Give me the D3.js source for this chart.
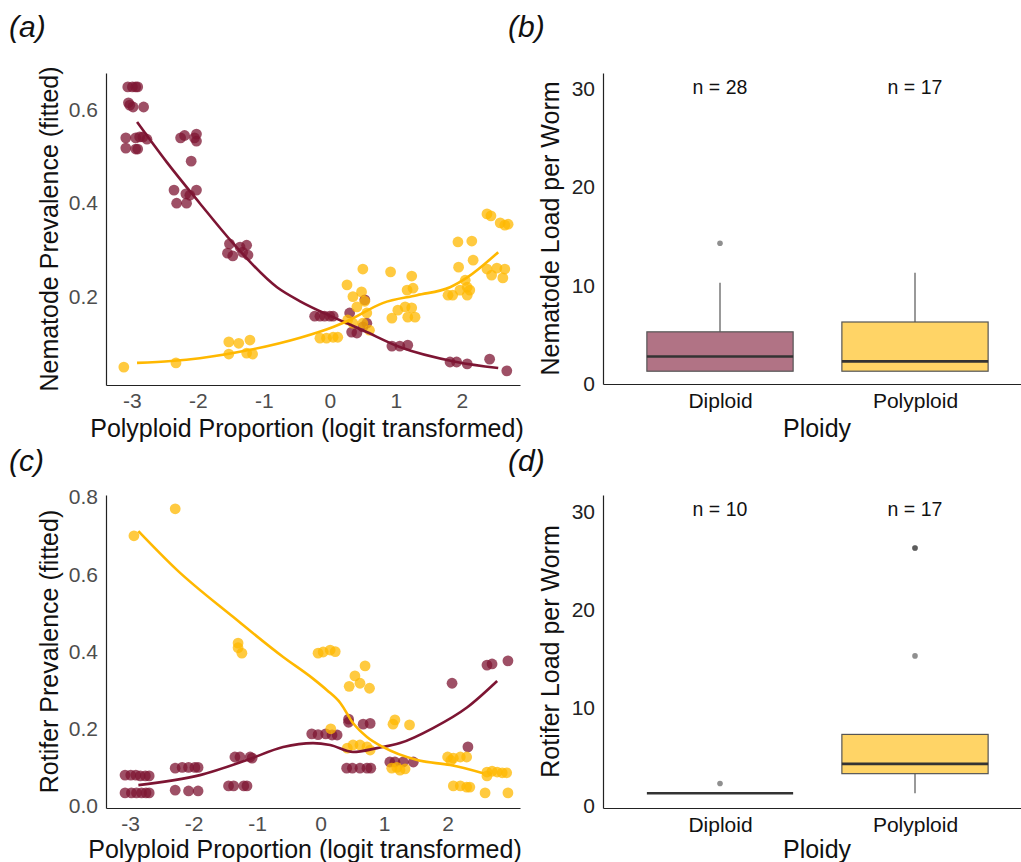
<!DOCTYPE html>
<html>
<head>
<meta charset="utf-8">
<script src="https://cdn.jsdelivr.net/npm/d3@7"></script>
<style>
  body { margin: 0; background: #fff; }
  svg { display: block; font-family: "Liberation Sans", Arial, sans-serif; }
</style>
</head>
<body>
<svg id="root" width="1021" height="862"></svg>
<script>
const root = d3.select('#root');

const maroon = '#7D1533';
const gold = '#FFB800';

// ---- panel (a): nematode prevalence, points are [logit polyploid proportion, prevalence]
const nemaDiploidPts = [
  [-3.06,0.649],[-2.99,0.649],[-2.94,0.649],[-2.91,0.649],
  [-3.05,0.615],[-3.03,0.61],[-2.98,0.606],[-2.82,0.606],
  [-3.09,0.54],[-2.94,0.54],[-2.88,0.542],[-2.83,0.542],[-2.77,0.537],
  [-3.09,0.518],[-2.94,0.516],[-2.91,0.516],
  [-2.26,0.54],[-2.20,0.545],[-2.05,0.54],[-2.02,0.548],[-2.02,0.533],[-2.10,0.49],
  [-2.36,0.428],[-2.32,0.40],[-2.18,0.42],[-2.17,0.40],[-2.02,0.428],[-2.12,0.417],
  [-1.52,0.313],[-1.55,0.293],[-1.47,0.287],[-1.36,0.306],[-1.26,0.31],[-1.24,0.289],[-1.32,0.295],
  [-0.23,0.158],[-0.15,0.158],[-0.08,0.158],[0.0,0.158],[0.05,0.158],
  [0.30,0.165],[0.53,0.193],[0.33,0.124],[0.41,0.122],[0.50,0.135],[0.56,0.143],
  [0.94,0.094],[1.06,0.094],[1.18,0.096],
  [1.82,0.06],[1.92,0.06],[2.08,0.056],[2.42,0.066],[2.68,0.041]
];
const nemaPolyPts = [
  [-3.12,0.049],[-2.33,0.058],
  [-1.53,0.103],[-1.38,0.10],[-1.21,0.107],[-1.53,0.077],[-1.26,0.079],[-1.17,0.077],
  [-0.15,0.111],[-0.05,0.111],[0.05,0.113],[0.12,0.113],
  [0.26,0.225],[0.50,0.259],[0.35,0.20],[0.48,0.21],[0.41,0.178],[0.27,0.15],[0.35,0.143],[0.50,0.143],[0.60,0.128],[0.56,0.165],[0.53,0.19],
  [0.92,0.253],[1.24,0.244],[1.17,0.214],[1.26,0.218],[1.03,0.171],[0.94,0.154],[1.14,0.178],[1.18,0.156],[1.29,0.156],[1.24,0.176],
  [1.94,0.317],[2.15,0.319],[2.17,0.278],[1.95,0.263],[1.79,0.203],[1.86,0.203],[1.97,0.214],[2.08,0.22],[2.08,0.203],[2.05,0.235],[2.12,0.214],
  [2.38,0.377],[2.44,0.373],[2.58,0.358],[2.65,0.353],[2.70,0.355],[2.38,0.259],[2.45,0.246],[2.53,0.261],[2.65,0.259],[2.62,0.24]
];
const nemaDiploidFit = [[-2.92,0.574],[-2.47,0.488],[-1.97,0.40],[-1.47,0.315],[-0.8,0.22],[-0.45,0.19],[0.05,0.156],[0.5,0.128],[1.06,0.092],[1.92,0.06],[2.55,0.047]];
const nemaPolyFit = [[-2.92,0.058],[-2.4,0.062],[-1.97,0.068],[-1.21,0.086],[-0.45,0.112],[0.05,0.135],[0.3,0.15],[0.8,0.186],[1.32,0.203],[1.82,0.22],[2.07,0.24],[2.55,0.295]];

// ---- panel (c): rotifer prevalence
const rotDiploidPts = [
  [-3.08,0.08],[-2.99,0.08],[-2.91,0.08],[-2.84,0.078],[-2.76,0.078],[-2.70,0.078],
  [-3.08,0.034],[-2.98,0.034],[-2.90,0.034],[-2.82,0.034],[-2.75,0.034],[-2.70,0.034],
  [-2.29,0.098],[-2.18,0.10],[-2.08,0.10],[-1.98,0.10],[-1.93,0.10],
  [-2.29,0.041],[-2.08,0.039],[-1.93,0.039],
  [-1.45,0.052],[-1.37,0.052],[-1.21,0.052],[-1.16,0.052],
  [-1.35,0.127],[-1.27,0.127],[-1.11,0.127],[-1.08,0.124],
  [-0.14,0.187],[-0.04,0.185],[0.08,0.187],[0.18,0.184],[0.26,0.184],
  [0.44,0.225],[0.44,0.217],[0.67,0.212],[0.78,0.214],
  [0.41,0.098],[0.50,0.098],[0.62,0.098],[0.73,0.098],[0.79,0.098],
  [1.09,0.114],[1.17,0.114],[1.30,0.114],[1.46,0.114],
  [2.07,0.318],[2.32,0.153],[2.62,0.365],[2.70,0.368],[2.95,0.376]
];
const rotPolyPts = [
  [-2.94,0.70],[-2.29,0.77],
  [-1.30,0.422],[-1.30,0.41],[-1.24,0.396],
  [-0.04,0.396],[0.04,0.399],[0.15,0.404],[0.23,0.40],
  [0.16,0.20],
  [0.70,0.363],[0.54,0.337],[0.45,0.31],[0.62,0.318],[0.77,0.305],
  [1.17,0.223],[1.14,0.212],[1.40,0.21],
  [0.42,0.15],[0.51,0.158],[0.62,0.158],[0.73,0.153],[0.78,0.145],
  [1.12,0.098],[1.20,0.10],[1.25,0.093],[1.33,0.096],
  [2.0,0.127],[2.09,0.124],[2.2,0.127],[2.3,0.127],[2.05,0.118],
  [2.09,0.052],[2.2,0.052],[2.3,0.049],[2.35,0.049],
  [2.62,0.088],[2.70,0.09],[2.78,0.088],[2.86,0.086],[2.93,0.086],[2.62,0.078],
  [2.59,0.034],[2.95,0.034]
];
const rotDiploidFit = [[-2.87,0.054],[-1.9,0.08],[-1.16,0.119],[-0.59,0.153],[-0.12,0.163],[0.15,0.158],[0.51,0.14],[0.89,0.15],[1.25,0.163],[1.77,0.202],[2.31,0.256],[2.78,0.324]];
const rotPolyFit = [[-2.87,0.712],[-2.26,0.611],[-1.38,0.49],[-0.59,0.386],[-0.12,0.33],[0.1,0.30],[0.31,0.267],[0.51,0.215],[0.73,0.179],[0.98,0.153],[1.52,0.119],[2.04,0.106],[2.56,0.085]];

const logitTicks = [-3, -2, -1, 0, 1, 2];
const nemaPrevTicks = [0.2, 0.4, 0.6];
const rotPrevTicks = [0.0, 0.2, 0.4, 0.6, 0.8];

// ---- panels (b) and (d): box plot summaries per ploidy
const ploidy = ['Diploid', 'Polyploid'];
const loadTicks = [0, 10, 20, 30];
const nemaLoadN = [28, 17];
const nemaLoadBox = [
  { lo: 1, q1: 1, med: 2.5, q3: 5, hi: 10, out: [14] },
  { lo: 1, q1: 1, med: 2, q3: 6, hi: 11, out: [] }
];
const rotLoadN = [10, 17];
const rotLoadBox = [
  { lo: 1, q1: 1, med: 1, q3: 1, hi: 1, out: [2] },
  { lo: 1, q1: 3, med: 4, q3: 7, hi: 7, out: [15, 26, 26] }
];

//Helpers
const styleAxis = (g, color) => {
  g.select('.domain').attr('stroke', '#222').attr('stroke-width', 1.2);
  g.selectAll('text').attr('fill', color).attr('font-size', 21).attr('font-family', null);
};

const panelLabel = (x, y, txt) => {
  root.append('text').attr('x', x).attr('y', y).attr('font-size', 30)
    .attr('font-style', 'italic').attr('fill', '#111').text(txt);
};

const scatterPanel = (cfg) => {
  const x = d3.scaleLinear().domain(cfg.xDomain).range([cfg.left, cfg.right]);
  const y = d3.scaleLinear().domain(cfg.yDomain).range([cfg.bottom, cfg.top]);
  const g = root.append('g');

  // plain hyphen for negatives, like the original figure
  g.append('g').attr('transform', `translate(0,${cfg.bottom})`)
    .call(d3.axisBottom(x).tickValues(logitTicks).tickSize(0).tickPadding(8).tickFormat(d => String(d)))
    .call(s => styleAxis(s, '#4d4d4d'));
  g.append('g').attr('transform', `translate(${cfg.left},0)`)
    .call(d3.axisLeft(y).tickValues(cfg.yTicks).tickSize(0).tickPadding(8).tickFormat(d3.format('.1f')))
    .call(s => styleAxis(s, '#4d4d4d'));

  const series = [
    { pts: cfg.dipPts, color: maroon },
    { pts: cfg.polyPts, color: gold }
  ];
  series.forEach(s => {
    g.append('g').selectAll('circle').data(s.pts).enter().append('circle')
      .attr('cx', d => x(d[0])).attr('cy', d => y(d[1])).attr('r', 5.4)
      .attr('fill', s.color).attr('opacity', 0.75);
  });

  const line = d3.line().x(d => x(d[0])).y(d => y(d[1])).curve(d3.curveMonotoneX);
  [{ d: cfg.dipFit, c: maroon }, { d: cfg.polyFit, c: gold }].forEach(f => {
    g.append('path').attr('d', line(f.d)).attr('fill', 'none')
      .attr('stroke', f.c).attr('stroke-width', 2.6);
  });

  g.append('text').attr('transform', `translate(58,${(cfg.top + cfg.bottom) / 2}) rotate(-90)`)
    .attr('text-anchor', 'middle').attr('font-size', 25).attr('fill', '#111').text(cfg.yTitle);
  g.append('text').attr('x', cfg.titleX).attr('y', cfg.bottom + cfg.titleGap)
    .attr('text-anchor', 'middle').attr('font-size', 25).attr('fill', '#111')
    .text('Polyploid Proportion (logit transformed)');
};

const boxPanel = (cfg) => {
  const x = d3.scaleLinear().domain([0.4, 2.6]).range([603, 1032]);
  const y = d3.scaleLinear().domain(cfg.yDomain).range([cfg.bottom, cfg.top]);
  const g = root.append('g');
  const bw = 0.75 * (x(2) - x(1));

  g.append('g').attr('transform', `translate(0,${cfg.bottom})`)
    .call(d3.axisBottom(x).tickValues([1, 2]).tickSize(0).tickPadding(9).tickFormat(d => ploidy[d - 1]))
    .call(s => styleAxis(s, '#111'));
  g.append('g').attr('transform', `translate(603,0)`)
    .call(d3.axisLeft(y).tickValues(loadTicks).tickSize(0).tickPadding(8))
    .call(s => styleAxis(s, '#222'))
    .selectAll('text').attr('dy', '0.45em');

  const fills = [maroon, gold];
  cfg.box.forEach((b, i) => {
    const cx = x(i + 1);
    const bg = g.append('g');
    bg.append('line').attr('x1', cx).attr('x2', cx).attr('y1', y(b.q3)).attr('y2', y(b.hi))
      .attr('stroke', '#555').attr('stroke-width', 1.2);
    bg.append('line').attr('x1', cx).attr('x2', cx).attr('y1', y(b.q1)).attr('y2', y(b.lo))
      .attr('stroke', '#555').attr('stroke-width', 1.2);
    bg.append('rect').attr('x', cx - bw / 2).attr('width', bw)
      .attr('y', y(b.q3)).attr('height', y(b.q1) - y(b.q3))
      .attr('fill', fills[i]).attr('fill-opacity', 0.6)
      .attr('stroke', '#555').attr('stroke-width', 1.2);
    bg.append('line').attr('x1', cx - bw / 2).attr('x2', cx + bw / 2)
      .attr('y1', y(b.med)).attr('y2', y(b.med))
      .attr('stroke', '#333').attr('stroke-width', 2.6);
    bg.selectAll('circle').data(b.out).enter().append('circle')
      .attr('cx', cx).attr('cy', d => y(d)).attr('r', 2.8)
      .attr('fill', '#333').attr('opacity', 0.55);
    g.append('text').attr('x', cx).attr('y', cfg.nY).attr('text-anchor', 'middle')
      .attr('font-size', 19.5).attr('fill', '#111').text(`n = ${cfg.n[i]}`);
  });

  g.append('text').attr('transform', `translate(559,${(cfg.top + cfg.bottom) / 2}) rotate(-90)`)
    .attr('text-anchor', 'middle').attr('font-size', 25).attr('fill', '#111').text(cfg.yTitle);
  g.append('text').attr('x', 817).attr('y', cfg.bottom + cfg.titleGap)
    .attr('text-anchor', 'middle').attr('font-size', 25).attr('fill', '#111').text('Ploidy');
};

//Panels
scatterPanel({
  left: 106, right: 520, top: 73, bottom: 385,
  xDomain: [-3.39, 2.88], yDomain: [(390 - 385) / 467, (390 - 73) / 467],
  yTicks: nemaPrevTicks, dipPts: nemaDiploidPts, polyPts: nemaPolyPts,
  dipFit: nemaDiploidFit, polyFit: nemaPolyFit,
  yTitle: 'Nematode Prevalence (fitted)', titleX: 307, titleGap: 52
});
scatterPanel({
  left: 106, right: 520, top: 495, bottom: 808,
  xDomain: [-3.38, 3.14], yDomain: [(806 - 808) / 386, (806 - 495) / 386],
  yTicks: rotPrevTicks, dipPts: rotDiploidPts, polyPts: rotPolyPts,
  dipFit: rotDiploidFit, polyFit: rotPolyFit,
  yTitle: 'Rotifer Prevalence (fitted)', titleX: 305, titleGap: 50
});
boxPanel({
  top: 73, bottom: 384, yDomain: [-0.3, 31.3], titleGap: 53,
  box: nemaLoadBox, n: nemaLoadN, nY: 94, yTitle: 'Nematode Load per Worm'
});
boxPanel({
  top: 495, bottom: 808, yDomain: [-0.5, 31.4], titleGap: 50,
  box: rotLoadBox, n: rotLoadN, nY: 516, yTitle: 'Rotifer Load per Worm'
});

panelLabel(9, 37, '(a)');
panelLabel(508, 37, '(b)');
panelLabel(9, 471, '(c)');
panelLabel(508, 471, '(d)');
</script>
</body>
</html>
